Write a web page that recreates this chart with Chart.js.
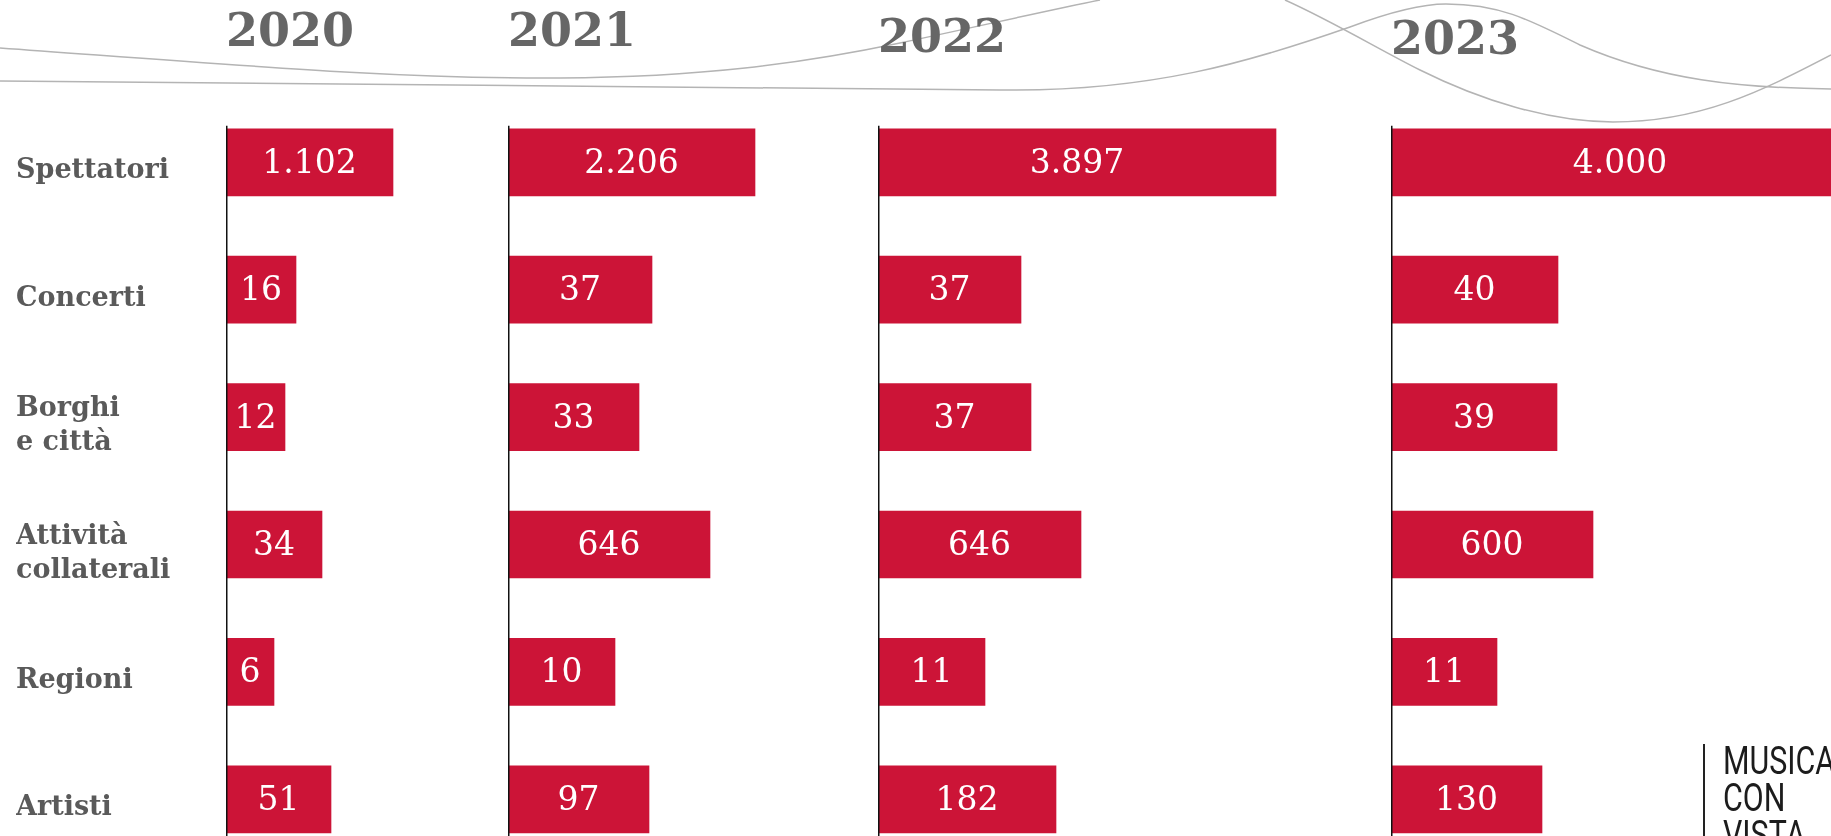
<!DOCTYPE html>
<html lang="it">
<head>
<meta charset="utf-8">
<title>Musica con vista 2020-2023</title>
<script src="https://cdn.jsdelivr.net/npm/chart.js@4.4.1/dist/chart.umd.min.js"></script>
<style>
  html, body { margin: 0; width: 1831px; height: 836px; overflow: hidden; background: #fff; }
  #waves { position: absolute; left: 0; top: 0; }
  .panel { position: absolute; top: 0; }
  #logo-bar { position: absolute; left: 1703px; top: 744px; width: 2px; height: 100px; background: #222; }
  #logo {
    position: absolute; left: 1723px; top: 743px;
    font: 400 38px/37px Roboto, sans-serif; color: #1c1c1c;
    transform: scaleX(0.8); transform-origin: 0 0; white-space: nowrap;
  }
</style>
</head>
<body>
<svg id="waves" width="1831" height="130">
  <g fill="none" stroke="#b4b4b4" stroke-width="1.5">
    <path d="M0,48 C250,66 400,79 560,78 C700,77 800,64 900,43 C980,26 1050,10 1100,0"/>
    <path d="M0,81 C400,84 800,88 1000,90 C1150,92 1250,62 1350,27 C1390,12 1420,4 1446,4 C1500,4 1530,20 1580,45 C1660,80 1740,88 1831,89"/>
    <path d="M1285,0 C1330,20 1380,50 1420,70 C1480,100 1550,122 1613,122 C1700,122 1760,92 1831,55"/>
  </g>
</svg>
<canvas id="chart2020" class="panel"></canvas>
<canvas id="chart2021" class="panel"></canvas>
<canvas id="chart2022" class="panel"></canvas>
<canvas id="chart2023" class="panel"></canvas>
<div id="logo-bar"></div>
<div id="logo">MUSICA<br>CON<br>VISTA</div>

<script>
// Data
const categories = [
  "Spettatori",
  "Concerti",
  ["Borghi", "e città"],
  ["Attività", "collaterali"],
  "Regioni",
  "Artisti",
];
const years = ["2020", "2021", "2022", "2023"];

// printed figures
const figures2020 = [1102, 16, 12, 34, 6, 51];
const figures2021 = [2206, 37, 33, 646, 10, 97];
const figures2022 = [3897, 37, 37, 646, 11, 182];
const figures2023 = [4000, 40, 39, 600, 11, 130];

// bar lengths as drawn in the infographic (not to scale with the figures)
const bars2020 = [167, 70, 59, 96, 48, 105];
const bars2021 = [247, 144, 131, 202, 107, 141];
const bars2022 = [398, 143, 153, 203, 107, 178];
const bars2023 = [458, 167, 166, 202, 106, 151];

const figures = [figures2020, figures2021, figures2022, figures2023];
const bars = [bars2020, bars2021, bars2022, bars2023];

// Layout of the four panels
const CANVAS_H = 863;
const AREA_TOP = 98.6;
const TITLE_SIZE = 46;
const BAR_THICK = 67;
const panels = [
  { left: 0, width: 508, labelColumn: 210, padLeft: 16, titleTop: 11.5 },
  { left: 508, width: 370, titleTop: 11.5 },
  { left: 878, width: 513, titleTop: 17 },
  { left: 1391, width: 440, titleTop: 19 },
];

const fmt = (v) => String(v).replace(/\B(?=(\d{3})+(?!\d))/g, ".");

// white figures inside the bars
const barLabels = {
  id: "barLabels",
  afterDatasetsDraw(chart, args, opts) {
    const { ctx } = chart;
    chart.getDatasetMeta(0).data.forEach((bar, i) => {
      ctx.save();
      ctx.fillStyle = "#fff";
      ctx.font = '33px "DejaVu Serif"';
      ctx.textAlign = "center";
      ctx.textBaseline = "middle";
      ctx.fillText(fmt(opts.figures[i]), (bar.x + bar.base) / 2, bar.y + 2);
      ctx.restore();
    });
  },
};

// vertical axis line, starting just above the first bar
const axisLine = {
  id: "axisLine",
  afterDatasetsDraw(chart) {
    const { ctx, chartArea, scales } = chart;
    const top = scales.y.getPixelForValue(0) - BAR_THICK / 2 - 3;
    ctx.save();
    ctx.strokeStyle = "#111";
    ctx.lineWidth = 1.5;
    ctx.beginPath();
    ctx.moveTo(chartArea.left + 0.75, top);
    ctx.lineTo(chartArea.left + 0.75, chartArea.bottom);
    ctx.stroke();
    ctx.restore();
  },
};

years.forEach((year, k) => {
  const p = panels[k];
  const canvas = document.getElementById("chart" + year);
  canvas.width = p.width;
  canvas.height = CANVAS_H;
  canvas.style.left = p.left + "px";

  const withLabels = !!p.labelColumn;
  const areaWidth = p.width - (withLabels ? p.padLeft + p.labelColumn : 0);

  new Chart(canvas.getContext("2d"), {
    type: "bar",
    data: {
      labels: categories,
      datasets: [
        {
          data: bars[k],
          backgroundColor: "#cc1437",
          barThickness: BAR_THICK,
        },
      ],
    },
    options: {
      indexAxis: "y",
      responsive: false,
      animation: false,
      layout: { padding: { left: withLabels ? p.padLeft : 0, right: 0, top: 0, bottom: 0 } },
      scales: {
        x: { display: false, min: 0, max: areaWidth },
        y: {
          display: withLabels,
          grid: { display: false },
          border: { display: false },
          afterFit: withLabels
            ? (scale) => {
                scale.width = p.labelColumn;
                scale.paddingTop = 0;
                scale.paddingBottom = 0;
              }
            : undefined,
          ticks: {
            crossAlign: "far",
            labelOffset: 9,
            color: "#5a5a5a",
            font: { family: "DejaVu Serif", size: 27, weight: "bold", lineHeight: 1.26 },
          },
        },
      },
      plugins: {
        legend: { display: false },
        tooltip: { enabled: false },
        title: {
          display: true,
          text: year,
          align: "start",
          fullSize: false,
          color: "#666",
          font: { family: "DejaVu Serif", size: TITLE_SIZE, weight: "bold", lineHeight: 1 },
          padding: { top: p.titleTop, bottom: AREA_TOP - p.titleTop - TITLE_SIZE },
        },
        barLabels: { figures: figures[k] },
      },
    },
    plugins: [barLabels, axisLine],
  });
});
</script>
</body>
</html>
